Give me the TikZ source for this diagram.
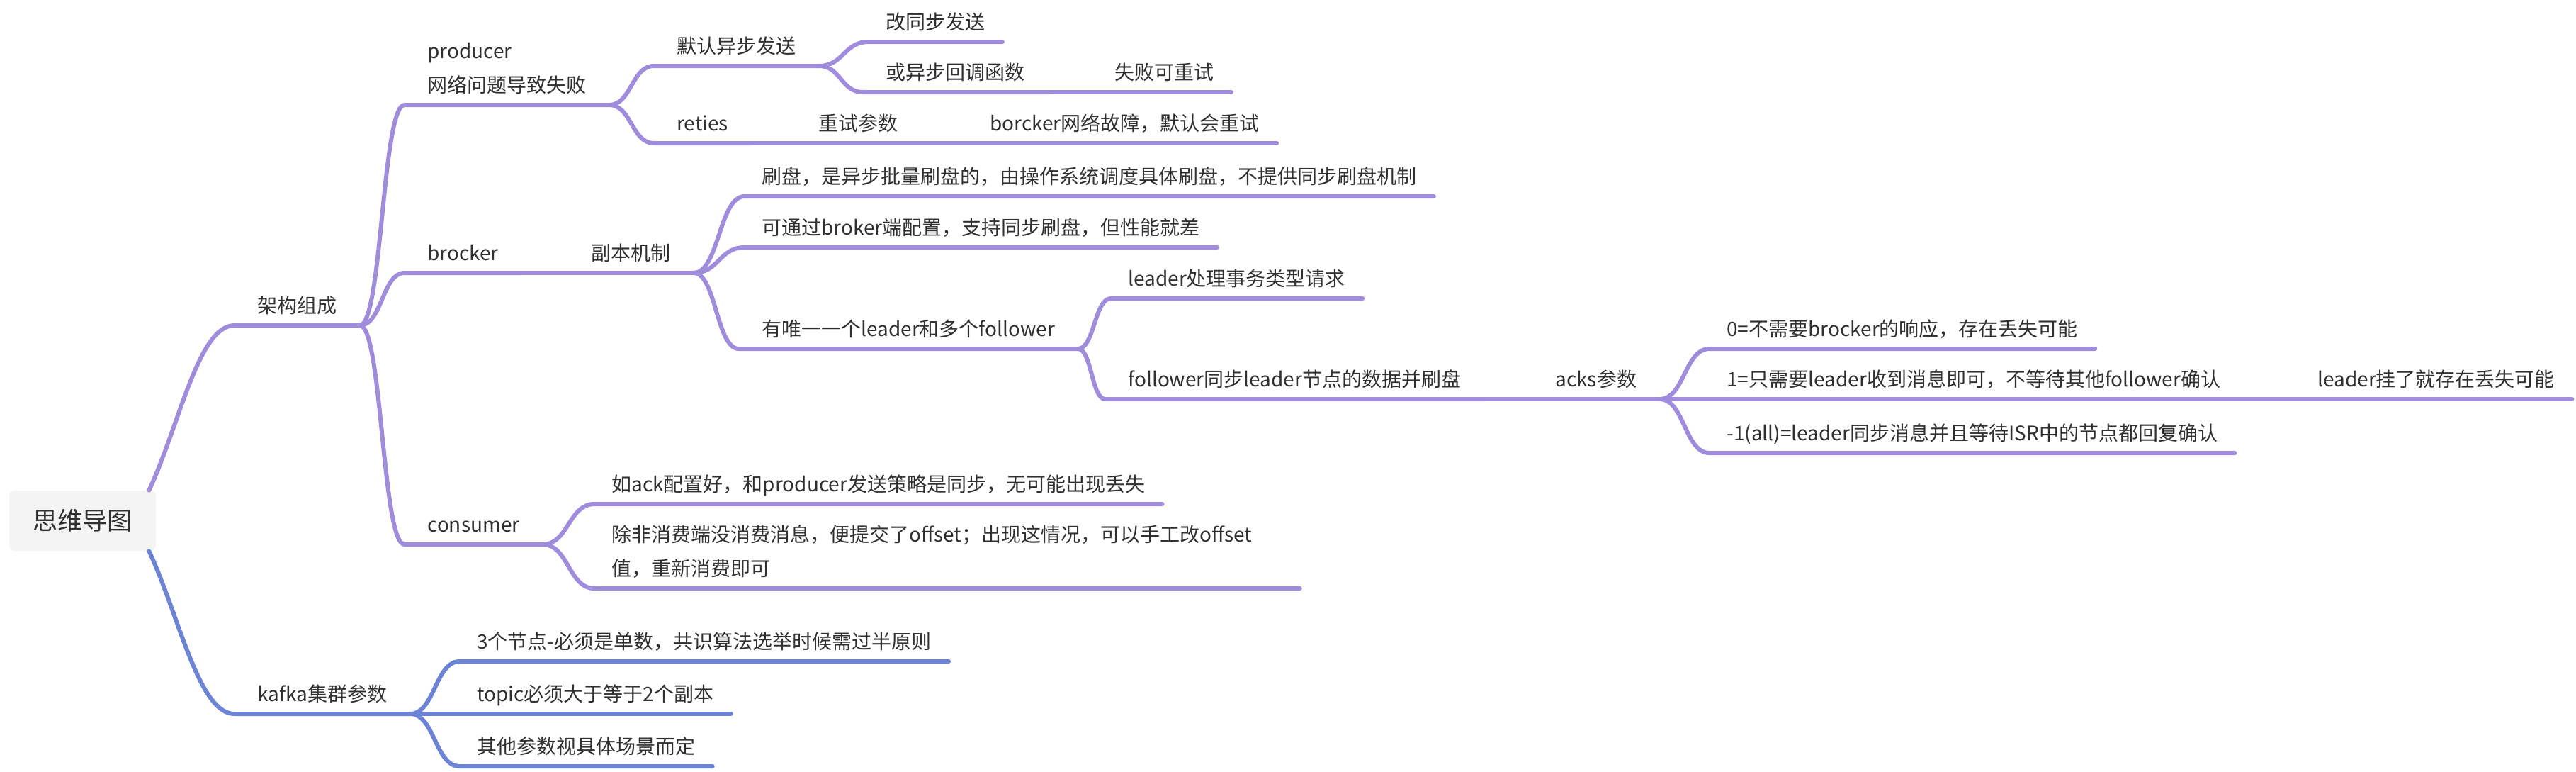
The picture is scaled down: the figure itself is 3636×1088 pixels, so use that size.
\documentclass[tikz,border=0pt]{standalone}
\usepackage{fontspec}
\setmainfont{Noto Sans CJK SC}
\usetikzlibrary{calc}
\definecolor{mmpurple}{HTML}{A08CDC}
\definecolor{mmblue}{HTML}{6C83D6}
\definecolor{mmgrey}{HTML}{F4F4F4}
\definecolor{mmtext}{HTML}{303030}

\begin{document}
\begin{tikzpicture}[
    x=0.5pt, y=-0.5pt,
    every node/.style={font=\fontsize{14pt}{24pt}\selectfont, text=mmtext},
    topic/.style={anchor=south west, inner xsep=16pt, inner ysep=8.5pt, text depth=0pt, align=left},
    leaf/.style={topic, inner xsep=12pt},
    rootbox/.style={fill=mmgrey, rounded corners=4pt, minimum width=103.5pt, minimum height=42.5pt, inner sep=0pt, font=\fontsize{17.5pt}{21pt}\selectfont},
    purp/.style={draw=mmpurple, line width=3pt, line cap=round, line join=round},
    blu/.style={purp, draw=mmblue},
    swoop/.style={to path={.. controls ($(\tikztostart)!0.5!(\tikztostart -| \tikztotarget)$) and ($(\tikztotarget)!0.5!(\tikztotarget -| \tikztostart)$) .. (\tikztotarget)}}
]
\useasboundingbox (0,0) rectangle (3636,1088);

% root
\node[rootbox] (root) at (116.5,734.5) {思维导图};

% level 1
\node[topic] (arch) at (331,459) {架构组成};
\node[topic] (kafka) at (331,1007) {kafka集群参数};

% producer
\node[topic] (prod) at (571,148) {producer\\网络问题导致失败};
\node[topic] (async) at (923,93) {默认异步发送};
\node[leaf] (sync) at (1226,59) {改同步发送};
\node[topic] (callback) at (1218,130) {或异步回调函数};
\node[leaf] (retryok) at (1549,130) {失败可重试};
\node[topic] (reties) at (923,202) {reties};
\node[topic] (retry) at (1123,202) {重试参数};
\node[leaf] (netfail) at (1373,202) {borcker网络故障，默认会重试};

% brocker
\node[topic] (brock) at (571,385) {brocker};
\node[topic] (replica) at (802,385) {副本机制};
\node[leaf] (flush) at (1051,277) {刷盘，是异步批量刷盘的，由操作系统调度具体刷盘，不提供同步刷盘机制};
\node[leaf] (syncflush) at (1051,349) {可通过broker端配置，支持同步刷盘，但性能就差};
\node[topic] (leader) at (1043,492) {有唯一一个leader和多个follower};
\node[leaf] (lreq) at (1568,421) {leader处理事务类型请求};
\node[topic] (follow) at (1560,563) {follower同步leader节点的数据并刷盘};
\node[topic] (acks) at (2163,563) {acks参数};
\node[leaf] (ack0) at (2413,492) {0=不需要brocker的响应，存在丢失可能};
\node[topic] (ack1) at (2405,563) {1=只需要leader收到消息即可，不等待其他follower确认};
\node[leaf] (ackrisk) at (3247,563) {leader挂了就存在丢失可能};
\node[leaf] (ackall) at (2413,639) {-1(all)=leader同步消息并且等待ISR中的节点都回复确认};

% consumer
\node[topic] (cons) at (571,768) {consumer};
\node[leaf] (ackcfg) at (839,711) {如ack配置好，和producer发送策略是同步，无可能出现丢失};
\node[leaf, text width=473.5pt, text depth=24pt] (uncommit) at (839,830) {除非消费端没消费消息，便提交了offset；出现这情况，可以手工改offset\\值，重新消费即可};

% kafka
\node[leaf] (nodes3) at (649,933) {3个节点-必须是单数，共识算法选举时候需过半原则};
\node[leaf] (topic) at (649,1007) {topic必须大于等于2个副本};
\node[leaf] (other) at (649,1081) {其他参数视具体场景而定};

% branches
\draw[purp] ([xshift=-5pt]root.north east) to[out=65, in=180, in looseness=0.5] (arch.south west) -- (arch.south east);
\draw[blu] ([xshift=-5pt]root.south east) to[out=-65, in=180, in looseness=0.5] (kafka.south west) -- (kafka.south east);

\draw[purp] (arch.south east) to[swoop] (prod.south west) -- (prod.south east);
\draw[purp] (arch.south east) to[swoop] (brock.south west) -- (brock.south east);
\draw[purp] (arch.south east) to[swoop] (cons.south west) -- (cons.south east);

\draw[purp] (prod.south east) to[swoop] (async.south west) -- (async.south east);
\draw[purp] (prod.south east) to[swoop] (reties.south west) -- (reties.south east);
\draw[purp] (async.south east) to[swoop] (sync.south west) -- (sync.south east);
\draw[purp] (async.south east) to[swoop] (callback.south west) -- (callback.south east);
\draw[purp] (callback.south east) -- (retryok.south west) -- (retryok.south east);
\draw[purp] (reties.south east) -- (retry.south west) -- (retry.south east);
\draw[purp] (retry.south east) -- (netfail.south west) -- (netfail.south east);

\draw[purp] (brock.south east) -- (replica.south west) -- (replica.south east);
\draw[purp] (replica.south east) to[swoop] (flush.south west) -- (flush.south east);
\draw[purp] (replica.south east) to[swoop] (syncflush.south west) -- (syncflush.south east);
\draw[purp] (replica.south east) to[swoop] (leader.south west) -- (leader.south east);
\draw[purp] (leader.south east) to[swoop] (lreq.south west) -- (lreq.south east);
\draw[purp] (leader.south east) to[swoop] (follow.south west) -- (follow.south east);
\draw[purp] (follow.south east) -- (acks.south west) -- (acks.south east);
\draw[purp] (acks.south east) to[swoop] (ack0.south west) -- (ack0.south east);
\draw[purp] (acks.south east) to[swoop] (ack1.south west) -- (ack1.south east);
\draw[purp] (ack1.south east) -- (ackrisk.south west) -- (ackrisk.south east);
\draw[purp] (acks.south east) to[swoop] (ackall.south west) -- (ackall.south east);

\draw[purp] (cons.south east) to[swoop] (ackcfg.south west) -- (ackcfg.south east);
\draw[purp] (cons.south east) to[swoop] (uncommit.south west) -- (uncommit.south east);

\draw[blu] (kafka.south east) to[swoop] (nodes3.south west) -- (nodes3.south east);
\draw[blu] (kafka.south east) to[swoop] (topic.south west) -- (topic.south east);
\draw[blu] (kafka.south east) to[swoop] (other.south west) -- (other.south east);
\end{tikzpicture}
\end{document}
